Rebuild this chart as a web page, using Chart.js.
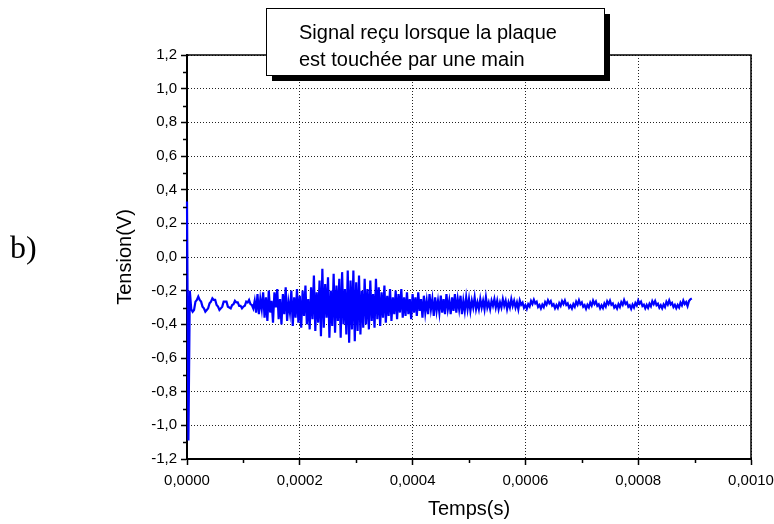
<!DOCTYPE html>
<html>
<head>
<meta charset="utf-8">
<script src="https://cdn.jsdelivr.net/npm/chart.js@4.4.0/dist/chart.umd.min.js"></script>
<style>
  html, body { margin: 0; padding: 0; background: #fff; }
  #wrap { width: 774px; height: 524px; }
</style>
</head>
<body>
<div id="wrap"><canvas id="signalChart" width="774" height="524"></canvas></div>
<script>
// scope trace, one sample every 2.5 µs
const sampleStep = 0.0000025;

// spike at t=0 then the slow damped ringing
const onsetVolts = [
  0.33, -1.09, -0.20, -0.31, -0.325, -0.315, -0.265, -0.255, -0.235, -0.255,
  -0.265, -0.295, -0.305, -0.325, -0.315, -0.305, -0.275, -0.265, -0.245, -0.255,
  -0.255, -0.285, -0.295, -0.315, -0.305, -0.295, -0.265, -0.265, -0.265, -0.295,
  -0.30, -0.305, -0.285, -0.28, -0.26, -0.27, -0.27, -0.29, -0.29, -0.305,
  -0.295, -0.29, -0.265, -0.27, -0.255, -0.28, -0.285, -0.305
];

// the touch itself
const burstVolts = [
  -0.26, -0.33, -0.22, -0.34, -0.25, -0.31, -0.21, -0.36, -0.24, -0.38,
  -0.20, -0.33, -0.26, -0.39, -0.21, -0.30, -0.19, -0.37, -0.25, -0.40,
  -0.22, -0.34, -0.18, -0.38, -0.27, -0.33, -0.20, -0.41, -0.24, -0.36,
  -0.19, -0.39, -0.23, -0.42, -0.20, -0.35, -0.17, -0.40, -0.25, -0.43,
  -0.18, -0.37, -0.11, -0.44, -0.21, -0.39, -0.14, -0.47, -0.07, -0.42,
  -0.16, -0.36, -0.12, -0.48, -0.20, -0.41, -0.10, -0.45, -0.17, -0.38,
  -0.13, -0.48, -0.09, -0.40, -0.19, -0.46, -0.08, -0.51, -0.14, -0.43,
  -0.08, -0.50, -0.15, -0.44, -0.11, -0.46, -0.20, -0.42, -0.13, -0.40,
  -0.19, -0.43, -0.14, -0.38, -0.22, -0.42, -0.13, -0.37, -0.18, -0.41,
  -0.21, -0.36, -0.17, -0.39, -0.23, -0.35, -0.19, -0.38, -0.24, -0.34,
  -0.20, -0.37, -0.22, -0.33, -0.19, -0.36, -0.24, -0.35, -0.21, -0.34,
  -0.25, -0.37, -0.22, -0.33, -0.24, -0.35, -0.21, -0.32, -0.25, -0.36, -0.23, -0.33,
  -0.26, -0.34, -0.22, -0.31, -0.25, -0.35, -0.24, -0.32, -0.26, -0.33
];

const decayVolts = [
  -0.23, -0.33, -0.25, -0.34, -0.22, -0.31, -0.26, -0.34, -0.24, -0.32,
  -0.22, -0.33, -0.25, -0.31, -0.23, -0.34, -0.26, -0.32, -0.24, -0.31,
  -0.25, -0.32, -0.26, -0.30, -0.24, -0.31, -0.27, -0.31, -0.25, -0.30,
  -0.26, -0.31, -0.24, -0.30, -0.27, -0.31, -0.26, -0.29, -0.25, -0.30,
  -0.26, -0.31, -0.27, -0.30, -0.25, -0.29, -0.26, -0.31, -0.27, -0.30,
  -0.25, -0.29, -0.26, -0.30, -0.27, -0.31
];

// thick wavy band up to the end of the record
const tailVolts = [
  -0.258, -0.284, -0.271, -0.302, -0.286, -0.308, -0.280, -0.294, -0.261, -0.279,
  -0.254, -0.276, -0.266, -0.297, -0.285, -0.306, -0.283, -0.298, -0.268, -0.283,
  -0.257, -0.275, -0.262, -0.289, -0.281, -0.305, -0.286, -0.303, -0.274, -0.290,
  -0.262, -0.279, -0.258, -0.285, -0.276, -0.301, -0.288, -0.306, -0.280, -0.296,
  -0.266, -0.284, -0.257, -0.281, -0.270, -0.296, -0.286, -0.308, -0.284, -0.299,
  -0.271, -0.289, -0.259, -0.279, -0.264, -0.290, -0.281, -0.305, -0.287, -0.303,
  -0.276, -0.294, -0.263, -0.280, -0.259, -0.284, -0.276, -0.301, -0.289, -0.306,
  -0.280, -0.297, -0.268, -0.284, -0.256, -0.279, -0.270, -0.296, -0.287, -0.308,
  -0.283, -0.300, -0.273, -0.288, -0.258, -0.277, -0.265, -0.291, -0.283, -0.305,
  -0.285, -0.302, -0.278, -0.293, -0.262, -0.280, -0.261, -0.286, -0.278, -0.301,
  -0.286, -0.305, -0.282, -0.297, -0.266, -0.283, -0.258, -0.282, -0.273, -0.297,
  -0.284, -0.304, -0.285, -0.300, -0.271, -0.287, -0.259, -0.279, -0.268, -0.292,
  -0.262, -0.251, -0.246
];

const timeRange = [0, 0.001];
const timeStep = 0.0002;
const voltRange = [-1.2, 1.2];
const voltStep = 0.2;

const titleLines = ['Signal reçu lorsque la plaque', 'est touchée par une main'];
const panelLabel = 'b)';

const sans = '"Liberation Sans", Arial, sans-serif';

const allVolts = [...onsetVolts, ...burstVolts, ...decayVolts, ...tailVolts];
const points = allVolts.map((v, i) => ({ x: i * sampleStep, y: v }));

// french style decimals: 0,0002 / -0,4
const commaFixed = (v, digits) => {
  let s = Number(v).toFixed(digits);
  if (parseFloat(s) === 0) s = s.replace('-', '');
  return s.replace('.', ',');
};

// frame, minor ticks, the caption box and the "b)" label
const decorations = {
  id: 'decorations',
  afterDraw(chart) {
    const { ctx, chartArea: area } = chart;
    const xs = chart.scales.x;
    const ys = chart.scales.y;
    ctx.save();

    ctx.strokeStyle = '#000';
    ctx.lineWidth = 1.5;
    ctx.beginPath();
    ctx.moveTo(area.left, area.top);
    ctx.lineTo(area.right, area.top);
    ctx.lineTo(area.right, area.bottom);
    ctx.stroke();

    ctx.beginPath();
    for (let k = 0; k < xs.ticks.length - 1; k++) {
      const px = Math.round(xs.getPixelForValue((xs.ticks[k].value + xs.ticks[k + 1].value) / 2)) + 0.5;
      ctx.moveTo(px, area.bottom);
      ctx.lineTo(px, area.bottom + 4);
    }
    for (let k = 0; k < ys.ticks.length - 1; k++) {
      const py = Math.round(ys.getPixelForValue((ys.ticks[k].value + ys.ticks[k + 1].value) / 2)) + 0.5;
      ctx.moveTo(area.left, py);
      ctx.lineTo(area.left - 4, py);
    }
    ctx.stroke();

    // caption box with its drop shadow
    const bx = 266, by = 8, bw = 338, bh = 67;
    ctx.fillStyle = '#000';
    ctx.fillRect(bx + 6, by + 6, bw, bh);
    ctx.fillStyle = '#fff';
    ctx.fillRect(bx, by, bw, bh);
    ctx.lineWidth = 1;
    ctx.strokeRect(bx + 0.5, by + 0.5, bw, bh);
    ctx.fillStyle = '#000';
    ctx.font = '20px ' + sans;
    ctx.textBaseline = 'alphabetic';
    ctx.textAlign = 'left';
    ctx.fillText(titleLines[0], 299, 39);
    ctx.fillText(titleLines[1], 299, 66);

    ctx.font = '32px "Liberation Serif", "Times New Roman", serif';
    ctx.fillText(panelLabel, 10, 258);
    ctx.restore();
  }
};

new Chart(document.getElementById('signalChart'), {
  type: 'line',
  data: {
    datasets: [{
      data: points,
      borderColor: '#0000ff',
      borderWidth: 2.2,
      pointRadius: 0,
      tension: 0,
      fill: false,
      clip: false
    }]
  },
  options: {
    responsive: false,
    animation: false,
    devicePixelRatio: 1,
    layout: { padding: { left: 0, right: 23, top: 55, bottom: 0 } },
    plugins: {
      legend: { display: false },
      tooltip: { enabled: false }
    },
    scales: {
      x: {
        type: 'linear',
        min: timeRange[0],
        max: timeRange[1],
        afterFit: (scale) => {
          scale.height = 65;
          scale.paddingLeft = 0;
          scale.paddingRight = 0;
        },
        ticks: {
          stepSize: timeStep,
          color: '#000',
          padding: 7,
          maxRotation: 0,
          autoSkip: false,
          font: { family: sans, size: 15 },
          callback: (v) => commaFixed(v, 4)
        },
        grid: {
          color: '#222',
          lineWidth: 1,
          tickLength: 6,
          tickColor: '#000',
          tickWidth: 1.5
        },
        border: { display: true, color: '#000', width: 2, dash: [1, 2] },
        title: {
          display: true,
          text: 'Temps(s)',
          color: '#000',
          font: { family: sans, size: 20 },
          padding: { top: 0, bottom: 3 }
        }
      },
      y: {
        min: voltRange[0],
        max: voltRange[1],
        afterFit: (scale) => { scale.width = 187; },
        ticks: {
          stepSize: voltStep,
          color: '#000',
          padding: 4,
          autoSkip: false,
          font: { family: sans, size: 15 },
          callback: (v) => commaFixed(v, 1)
        },
        grid: {
          color: '#222',
          lineWidth: 1,
          tickLength: 6,
          tickColor: '#000',
          tickWidth: 1.5
        },
        border: { display: true, color: '#000', width: 2, dash: [1, 2] },
        title: {
          display: true,
          text: 'Tension(V)',
          color: '#000',
          font: { family: sans, size: 20 },
          padding: { top: 113, bottom: 0 }
        }
      }
    }
  },
  plugins: [decorations]
});
</script>
</body>
</html>
